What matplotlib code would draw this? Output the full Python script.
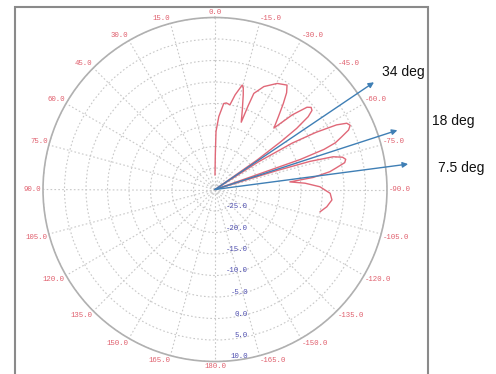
import numpy as np
import matplotlib
matplotlib.use("Agg")
from matplotlib import pyplot as plt
from matplotlib.patches import Rectangle
from matplotlib.transforms import ScaledTranslation

# radiation pattern: angle from boresight (deg, + is left) and gain (dB)
pat_angle = [0, -0.5, -1.0, -3, -5.8, -7.5, -10, -12, -14.6, -15.5, -16.6, -19, -21.3,
             -21.6, -22.0, -25.4, -30.4, -34.6, -36.5, -38.5, -41, -43.8,
             -46, -48.2, -49.5, -50.8, -52, -53.2, -54, -55, -56,
             -57.5, -59, -60.5, -62, -63.3, -64.6, -66, -67.5, -68.8, -69.8, -70.6, -72,
             -73, -73.5, -74.5, -75.8, -77, -78.3, -80, -81.2, -83, -84.2,
             -86, -88.5, -91.9, -95.1, -98.8, -101.9]
pat_gain = [-26.6, -22, -16.5, -13, -9.9, -9.7, -10, -7.5, -4.9, -5.4, -7, -10.5, -13.2,
            -9, -5.9, -3.5, -1.4, -0.5, -2, -4.5, -7.5, -10.2,
            -5, -1.3, -0.6, -0.9, -2.5, -6.3, -11, -18, -30,
            -18, -9, -3, 2, 4.3, 4.8, 4.0, 1.8, 0.0, -3, -9, -30,
            -15, -7, -1.5, 0.6, 1.2, 0.8, -1.5, -3, -7, -12.5,
            -9, -5.6, -3.2, -2.7, -3.7, -5.0]

# elevation arrows (deg above horizon) and their tip radius (dB scale)
elev = [34, 18, 7.5]
elev_tip = [14.6, 14.6, 15.3]
elev_text = ["34 deg", "18 deg", "7.5 deg"]
elev_text_px = [(382, 72), (432, 121), (438, 168)]

theta_ticks = list(range(0, 360, 15))
theta_labels = [f"{d if d <= 180 else d - 360:.1f}" for d in theta_ticks]
r_ticks = [-25, -20, -15, -10, -5, 0, 5, 10]

W, H = 496, 374
DPI = 100
fig = plt.figure(figsize=(W / DPI, H / DPI), dpi=DPI)
ax = fig.add_axes([43 / W, 12.5 / H, 344 / W, 344 / H], projection="polar")
ax.set_theta_zero_location("N")
ax.set_theta_direction(1)
ax.set_rlim(-30, 10)

ax.set_xticks(np.deg2rad(theta_ticks))
ax.set_xticklabels([])
ax.set_yticks(r_ticks)
ax.set_yticklabels([])
ax.tick_params(length=0)
ax.grid(True, color="#c8c8c8", linestyle=(0, (1.5, 2)), linewidth=0.8)
ax.spines["polar"].set_color("#b0b0b0")
ax.spines["polar"].set_linewidth(1.2)

# angle labels hug the outer ring, anchored by the corner nearest to it
for d, lab in zip(theta_ticks, theta_labels):
    a = np.deg2rad(d)
    ux, uy = -np.sin(a), np.cos(a)
    ha = "center" if abs(ux) < 0.1 else ("right" if ux < 0 else "left")
    va = "center" if abs(uy) < 0.1 else ("bottom" if uy > 0 else "top")
    off = ScaledTranslation(1.5 * ux / DPI, 1.5 * uy / DPI, fig.dpi_scale_trans)
    ax.text(a, 10, lab, transform=ax.transData + off, ha=ha, va=va,
            color="#e0606e", fontsize=5.3, family="Liberation Mono")

# radial labels down the 180 spoke, right-aligned
off_r = ScaledTranslation(33 / DPI, 4.5 / DPI, fig.dpi_scale_trans)
for r in r_ticks:
    ax.text(np.pi, r, f"{r:.1f}", transform=ax.transData + off_r, ha="right",
            va="center", color="#5050b0", fontsize=5.3, family="Liberation Mono")

ax.plot(np.deg2rad(pat_angle), pat_gain, color="#e06878", lw=1.0)

for e, rt in zip(elev, elev_tip):
    th = np.deg2rad(-(90 - e))
    ax.annotate("", xy=(th, rt), xytext=(0, -30),
                arrowprops=dict(arrowstyle="-|>", color="#3f7fb5", lw=1.0,
                                mutation_scale=8, shrinkA=0, shrinkB=0),
                annotation_clip=False)

for txt, (px, py) in zip(elev_text, elev_text_px):
    fig.text(px / W, 1 - py / H, txt, fontsize=10, family="Liberation Sans",
             va="center", ha="left", color="#111111")

fig.add_artist(Rectangle((15 / W, -0.02), (428 - 15) / W, 1 - 7 / H + 0.02,
                         transform=fig.transFigure, fill=False,
                         edgecolor="#8a8a8a", lw=1.5))

fig.savefig("out.png", dpi=DPI)
